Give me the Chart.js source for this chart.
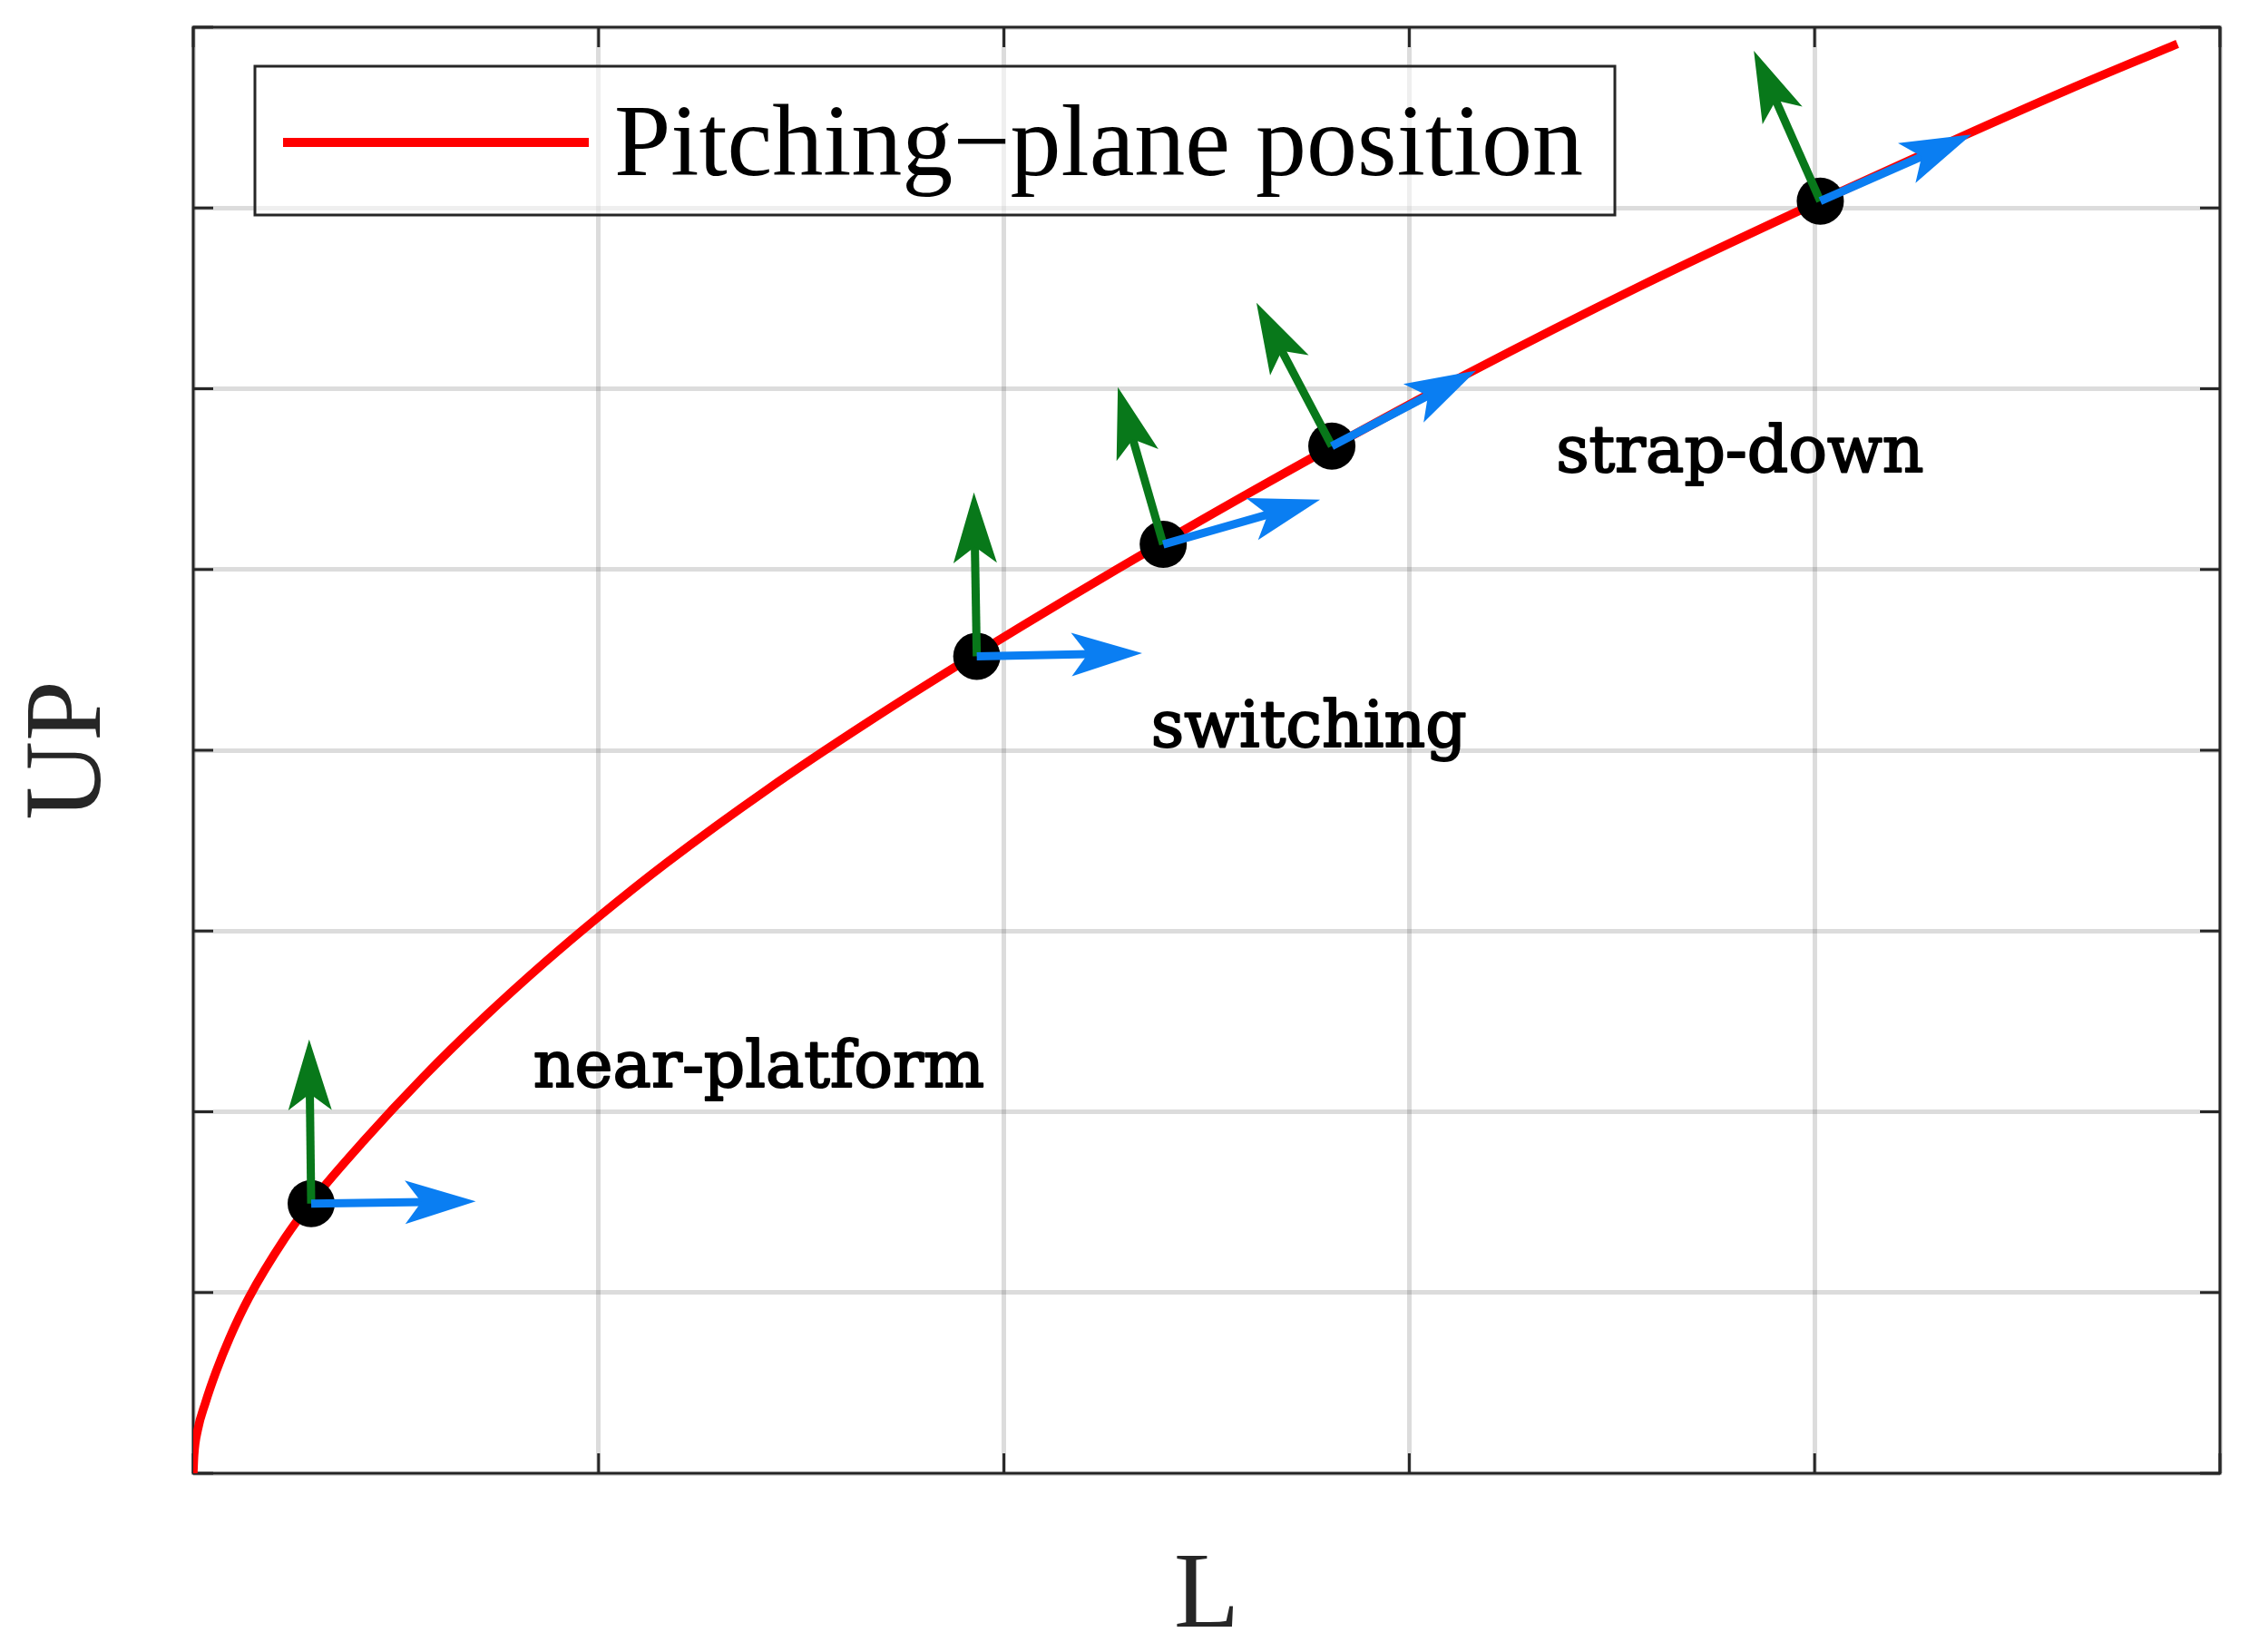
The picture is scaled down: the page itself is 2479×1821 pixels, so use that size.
<!DOCTYPE html>
<html>
<head>
<meta charset="utf-8">
<style>
html,body{margin:0;padding:0;background:#ffffff;}
#wrap{width:2479px;height:1821px;position:relative;}
</style>
<script src="https://cdn.jsdelivr.net/npm/chart.js@4.4.1/dist/chart.umd.min.js"></script>
</head>
<body>
<div id="wrap"><canvas id="c" width="2479" height="1821"></canvas></div>
<script>
// ---- data ----
const curveL  = [0, 0.002, 0.011, 0.03, 0.056, 0.09, 0.137, 0.226, 0.291, 0.419, 0.568, 0.718, 0.868, 0.998, 1.168, 1.417, 1.667, 1.932, 2.393, 2.798, 3.14, 3.568, 4.011, 4.353, 4.624, 4.895];
const curveUP = [0, 0.10, 0.24, 0.39, 0.56, 0.75, 0.97, 1.30, 1.50, 1.835, 2.193, 2.523, 2.828, 3.075, 3.378, 3.784, 4.159, 4.533, 5.151, 5.665, 6.079, 6.566, 7.036, 7.385, 7.653, 7.908];

const nodeL  = [0.291, 1.933, 2.393, 2.809, 4.014];
const nodeUP = [1.492, 4.520, 5.139, 5.683, 7.038];

const tangentTipL  = [0.697, 2.341, 2.780, 3.165, 4.387];
const tangentTipUP = [1.504, 4.537, 5.387, 6.101, 7.406];

const normalTipL  = [0.286, 1.926, 2.281, 2.623, 3.850];
const normalTipUP = [2.400, 5.427, 6.009, 6.476, 7.870];

const xTicks = [0, 1, 2, 3, 4, 5];
const yTicks = [0, 1, 2, 3, 4, 5, 6, 7, 8];

const regionLabels   = ['near-platform', 'switching', 'strap-down'];
const regionLabelL   = [0.839, 2.363, 3.362];
const regionLabelUP  = [2.138, 4.020, 5.541];

const seriesLabel = 'Pitching\u2212plane position';
const xTitle = 'L';
const yTitle = 'UP';

// ---- styles ----
const INK = '#262626';
const RED = '#ff0000';
const BLUE = '#0a7ef2';
const GREEN = '#08781a';
const SERIF = "'Liberation Serif', 'Times New Roman', serif";

const framePlugin = {
  id: 'frame',
  beforeDatasetsDraw(chart) {
    const {ctx, chartArea: a, scales: {x, y}} = chart;
    const tl = 22;
    ctx.save();
    ctx.strokeStyle = INK;
    ctx.lineWidth = 3;
    ctx.beginPath();
    xTicks.forEach(v => {
      const px = x.getPixelForValue(v);
      ctx.moveTo(px, a.bottom); ctx.lineTo(px, a.bottom - tl);
      ctx.moveTo(px, a.top); ctx.lineTo(px, a.top + tl);
    });
    yTicks.forEach(v => {
      const py = y.getPixelForValue(v);
      ctx.moveTo(a.left, py); ctx.lineTo(a.left + tl, py);
      ctx.moveTo(a.right, py); ctx.lineTo(a.right - tl, py);
    });
    ctx.stroke();
    ctx.strokeRect(a.left, a.top, a.right - a.left, a.bottom - a.top);
    ctx.restore();
  }
};

function drawArrow(ctx, x0, y0, x1, y1, color) {
  const dx = x1 - x0, dy = y1 - y0, len = Math.hypot(dx, dy);
  const ux = dx / len, uy = dy / len, nx = -uy, ny = ux;
  const hl = 78, hw = 24, notch = 60;
  ctx.strokeStyle = color;
  ctx.fillStyle = color;
  ctx.lineWidth = 9;
  ctx.lineCap = 'butt';
  ctx.beginPath();
  ctx.moveTo(x0, y0);
  ctx.lineTo(x1 - ux * (notch - 3), y1 - uy * (notch - 3));
  ctx.stroke();
  ctx.beginPath();
  ctx.moveTo(x1, y1);
  ctx.lineTo(x1 - ux * hl + nx * hw, y1 - uy * hl + ny * hw);
  ctx.lineTo(x1 - ux * notch, y1 - uy * notch);
  ctx.lineTo(x1 - ux * hl - nx * hw, y1 - uy * hl - ny * hw);
  ctx.closePath();
  ctx.fill();
}

const quiverPlugin = {
  id: 'quiver',
  afterDatasetsDraw(chart) {
    const {ctx, scales: {x, y}} = chart;
    ctx.save();
    for (let i = 0; i < nodeL.length; i++) {
      const x0 = x.getPixelForValue(nodeL[i]), y0 = y.getPixelForValue(nodeUP[i]);
      drawArrow(ctx, x0, y0, x.getPixelForValue(normalTipL[i]), y.getPixelForValue(normalTipUP[i]), GREEN);
      drawArrow(ctx, x0, y0, x.getPixelForValue(tangentTipL[i]), y.getPixelForValue(tangentTipUP[i]), BLUE);
    }
    // region labels (regular face, slightly emboldened)
    ctx.fillStyle = '#000000';
    ctx.strokeStyle = '#000000';
    ctx.lineWidth = 2;
    ctx.lineJoin = 'round';
    ctx.textAlign = 'left';
    ctx.textBaseline = 'alphabetic';
    ctx.font = "71px 'DejaVu Serif', serif";
    regionLabels.forEach((t, i) => {
      const px = x.getPixelForValue(regionLabelL[i]), py = y.getPixelForValue(regionLabelUP[i]);
      ctx.fillText(t, px, py);
      ctx.strokeText(t, px, py);
    });
    ctx.restore();
  }
};

const boxLegendPlugin = {
  id: 'boxLegend',
  afterDraw(chart) {
    const {ctx, chartArea: a} = chart;
    const bx = a.left + 68, by = a.top + 43, bw = 1499, bh = 164;
    const ds = chart.data.datasets.find(d => d.label);
    ctx.save();
    ctx.fillStyle = 'rgba(255,255,255,0.55)';
    ctx.fillRect(bx, by, bw, bh);
    ctx.strokeStyle = INK;
    ctx.lineWidth = 3;
    ctx.strokeRect(bx, by, bw, bh);
    ctx.strokeStyle = ds.borderColor;
    ctx.lineWidth = 10;
    ctx.beginPath();
    ctx.moveTo(bx + 31, by + 84);
    ctx.lineTo(bx + 368, by + 84);
    ctx.stroke();
    ctx.fillStyle = '#000000';
    ctx.font = '112px ' + SERIF;
    ctx.textAlign = 'left';
    ctx.textBaseline = 'alphabetic';
    ctx.fillText(ds.label, bx + 396, by + 120);
    ctx.restore();
  }
};

new Chart(document.getElementById('c'), {
  type: 'line',
  data: {
    datasets: [
      {
        type: 'scatter',
        data: nodeL.map((v, i) => ({x: v, y: nodeUP[i]})),
        backgroundColor: '#000000',
        borderColor: '#000000',
        pointRadius: 26,
        pointHoverRadius: 26,
        borderWidth: 0,
        showLine: false,
        order: 0
      },
      {
        label: seriesLabel,
        data: curveL.map((v, i) => ({x: v, y: curveUP[i]})),
        borderColor: RED,
        backgroundColor: RED,
        borderWidth: 9.5,
        pointRadius: 0,
        fill: false,
        cubicInterpolationMode: 'monotone',
        order: 1
      }
    ]
  },
  options: {
    responsive: false,
    devicePixelRatio: 1,
    animation: false,
    events: [],
    layout: {padding: {left: 0, right: 32, top: 30, bottom: 0}},
    plugins: {legend: {display: false}, tooltip: {enabled: false}, title: {display: false}},
    scales: {
      x: {
        type: 'linear', min: 0, max: 5,
        ticks: {display: false, stepSize: 1},
        afterBuildTicks: s => { s.ticks = xTicks.map(v => ({value: v})); },
        grid: {color: 'rgba(38,38,38,0.16)', lineWidth: 5, drawTicks: false},
        border: {display: false},
        title: {display: true, text: xTitle, color: INK, font: {family: SERIF, size: 118, lineHeight: 1}, padding: {top: 0, bottom: 0}},
        afterFit: s => { s.height = 197; }
      },
      y: {
        type: 'linear', min: 0, max: 8,
        ticks: {display: false, stepSize: 1},
        afterBuildTicks: s => { s.ticks = yTicks.map(v => ({value: v})); },
        grid: {color: 'rgba(38,38,38,0.16)', lineWidth: 5, drawTicks: false},
        border: {display: false},
        title: {display: true, text: yTitle, color: INK, font: {family: SERIF, size: 120, lineHeight: 1}, padding: {top: 18, bottom: 0}},
        afterFit: s => { s.width = 213; }
      }
    }
  },
  plugins: [framePlugin, quiverPlugin, boxLegendPlugin]
});
</script>
</body>
</html>
